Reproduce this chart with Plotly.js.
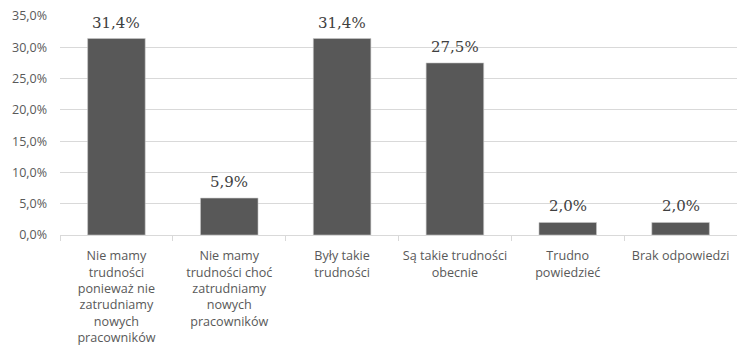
<!DOCTYPE html>
<html>
<head>
<meta charset="utf-8">
<script src="https://cdn.plot.ly/plotly-3.0.1.min.js"></script>
<style>html,body{margin:0;padding:0;background:#fff;}#chart{width:737px;height:350px;}</style>
</head>
<body>
<div id="chart"></div>
<script>
var categories = [
  "Nie mamy<br>trudności<br>ponieważ nie<br>zatrudniamy<br>nowych<br>pracowników",
  "Nie mamy<br>trudności choć<br>zatrudniamy<br>nowych<br>pracowników",
  "Były takie<br>trudności",
  "Są takie trudności<br>obecnie",
  "Trudno<br>powiedzieć",
  "Brak odpowiedzi"
];
var values = [31.4, 5.9, 31.4, 27.5, 2.0, 2.0];
var labels = ["31,4%", "5,9%", "31,4%", "27,5%", "2,0%", "2,0%"];
var tickVals = [0, 5, 10, 15, 20, 25, 30, 35];
var tickText = ["0,0%", "5,0%", "10,0%", "15,0%", "20,0%", "25,0%", "30,0%", "35,0%"];

var trace = {
  type: "bar",
  x: categories,
  y: values,
  marker: {color: "#585858", line: {color: "#c8c8c8", width: 0.6}},
  hoverinfo: "none"
};

var annotations = categories.map(function (c, i) {
  return {
    x: c, y: values[i], xref: "x", yref: "y",
    text: labels[i], showarrow: false,
    yanchor: "bottom", yshift: 5,
    font: {family: "DejaVu Serif, Liberation Serif, serif", size: 15, color: "#404040"}
  };
});

var layout = {
  width: 737, height: 350,
  margin: {l: 60, r: 0, t: 16, b: 115},
  paper_bgcolor: "#fff", plot_bgcolor: "#fff",
  bargap: 0.49,
  showlegend: false,
  annotations: annotations,
  xaxis: {
    type: "category",
    showgrid: false,
    showline: true, linecolor: "#d9d9d9", linewidth: 1,
    ticks: "outside", tickson: "boundaries", ticklen: 5, tickcolor: "#d9d9d9",
    tickangle: 0,
    ticklabelstandoff: 9,
    tickfont: {family: "Open Sans, Liberation Sans, sans-serif", size: 12.6, color: "#595959"},
    automargin: false
  },
  yaxis: {
    range: [0, 35],
    tickvals: tickVals,
    ticktext: tickText,
    showgrid: true, gridcolor: "#d9d9d9", gridwidth: 1,
    zeroline: false, showline: false,
    ticks: "", ticklen: 0,
    ticklabelstandoff: 12,
    tickfont: {family: "Open Sans, Liberation Sans, sans-serif", size: 12.5, color: "#595959"},
    automargin: false
  }
};

Plotly.newPlot("chart", [trace], layout, {staticPlot: true, displayModeBar: false});
</script>
</body>
</html>
